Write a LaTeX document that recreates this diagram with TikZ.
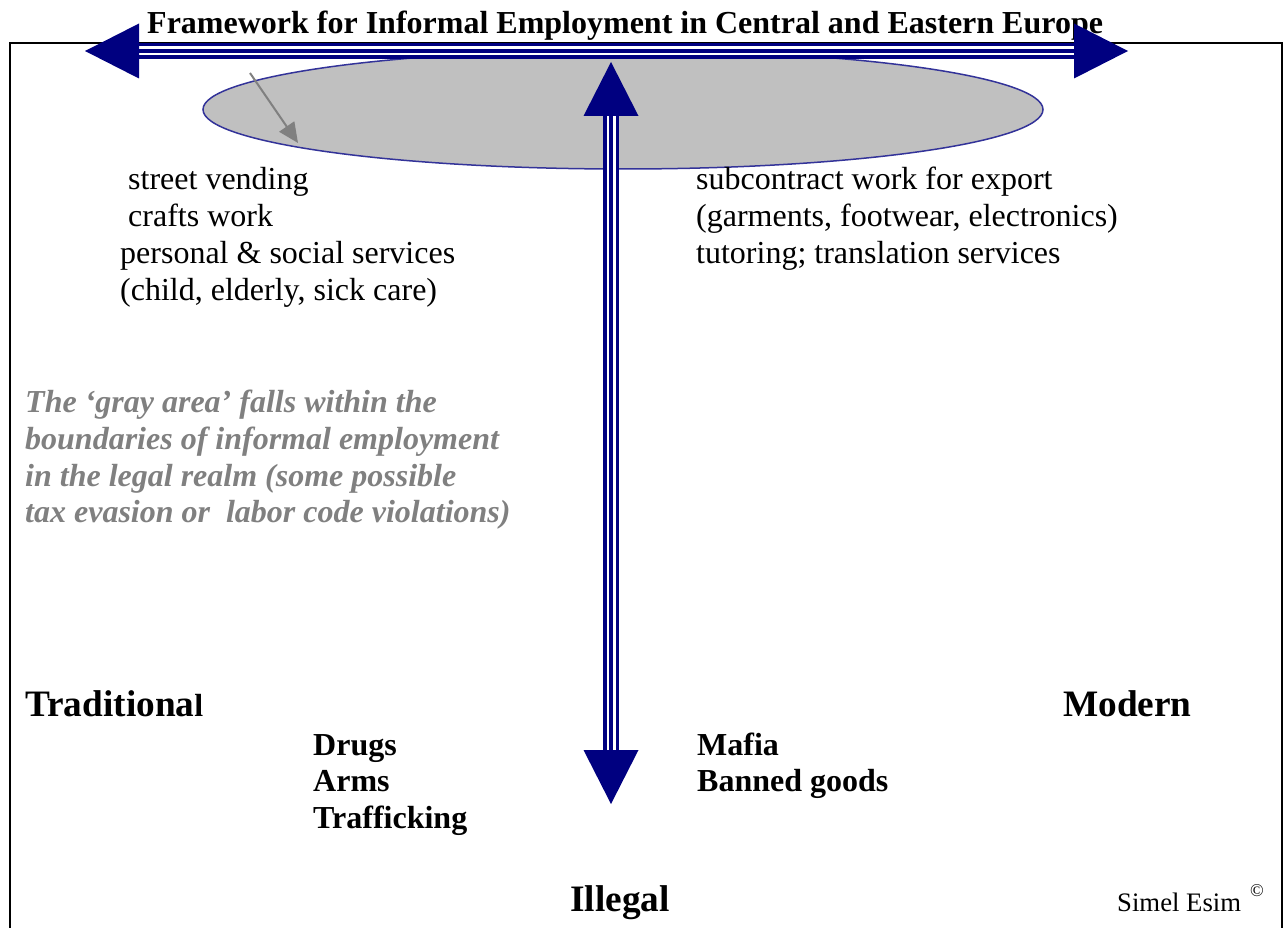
\documentclass[tikz,border=0pt]{standalone}
\usepackage{fontspec}
\setmainfont{Liberation Serif}
\usetikzlibrary{arrows.meta,shapes.geometric}
\definecolor{navy}{HTML}{000080}
\definecolor{rim}{HTML}{333399}
\definecolor{shade}{HTML}{C0C0C0}
\definecolor{note}{HTML}{808080}

\begin{document}
\begin{tikzpicture}[x=1pt,y=-1pt,
  txt/.style={inner sep=0pt, anchor=base west, font=\fontsize{32}{37}\selectfont},
  bold/.style={txt, font=\fontsize{32}{37}\selectfont\bfseries},
  big/.style={txt, font=\fontsize{37.3}{42}\selectfont\bfseries},
  grayline/.style={txt, text=note, font=\fontsize{32}{37}\selectfont\bfseries\itshape},
  shaft/.style={draw=navy, line width=16pt},
  gap/.style={draw=white, line width=2.5pt},
  head/.style={fill=navy},
  pointer/.style={draw=note, line width=2pt, -{Triangle[length=20pt,width=18pt]}}
]
\useasboundingbox (0,0) rectangle (1283,928);

% open frame running off the bottom of the page
\draw[line width=2pt] (10,940) -- (10,43) -- (1282,43) -- (1282,940);

% the gray area
\node[ellipse, draw=rim, line width=1.5pt, fill=shade, minimum width=840pt,
      minimum height=119pt, inner sep=0pt] (gray) at (623,109.5) {};

% pointer into the gray area
\coordinate (p0) at (250,73);
\coordinate (p1) at (298,143);
\draw[pointer] (p0) -- (p1);

% title
\node[txt, font=\fontsize{32}{37}\selectfont\bfseries] (title) at (147,34)
  {Framework for Informal Employment in Central and Eastern Europe};

% axis end points
\coordinate (hL) at (85,51);
\coordinate (hR) at (1128,51);
\coordinate (vT) at (611,62);
\coordinate (vB) at (611,804);

% horizontal axis: triple-line shaft with two heads
\draw[shaft] ([xshift=53]hL) -- ([xshift=-53]hR);
\draw[gap] ([xshift=53,yshift=3.25]hL) -- ([xshift=-53,yshift=3.25]hR);
\draw[gap] ([xshift=53,yshift=-3.25]hL) -- ([xshift=-53,yshift=-3.25]hR);
\fill[head] (hL) -- ++(54,-27.5) -- ++(0,55) -- cycle;
\fill[head] (hR) -- ++(-54,-27.5) -- ++(0,55) -- cycle;

% vertical axis: triple-line shaft with two heads (yshift is upward on the page)
\draw[shaft] ([yshift=-53]vT) -- ([yshift=53]vB);
\draw[gap] ([xshift=3.25,yshift=-53]vT) -- ([xshift=3.25,yshift=53]vB);
\draw[gap] ([xshift=-3.25,yshift=-53]vT) -- ([xshift=-3.25,yshift=53]vB);
\fill[head] (vT) -- ++(-27.5,54) -- ++(55,0) -- cycle;
\fill[head] (vB) -- ++(-27.5,-54) -- ++(55,0) -- cycle;

% traditional legal activities
\node[txt] (l1) at (128,190) {street vending};
\node[txt] (l2) at (128,227) {crafts work};
\node[txt] (l3) at (120,264) {personal \& social services};
\node[txt] (l4) at (120,300) {(child, elderly, sick care)};

% modern legal activities
\node[txt] (r1) at (696,190) {subcontract work for export};
\node[txt] (r2) at (696,227) {(garments, footwear, electronics)};
\node[txt] (r3) at (696,264) {tutoring; translation services};

% note on the gray area
\node[grayline] (g1) at (25,412) {The `gray area' falls within the};
\node[grayline] (g2) at (25,449) {boundaries of informal employment};
\node[grayline] (g3) at (25,486) {in the legal realm (some possible};
\node[grayline] (g4) at (25,522) {tax evasion or~ labor code violations)};

% axis labels
\node[big] (trad) at (25,716) {Traditiona{\fontsize{32}{37}\selectfont l}};
\node[big] (mod) at (1063,716) {Modern};
\node[big] (ill) at (570,911) {Illegal};

% illegal activities
\node[bold] (d1) at (313,755) {Drugs};
\node[bold] (d2) at (313,791) {Arms};
\node[bold] (d3) at (313,828) {Trafficking};
\node[bold] (m1) at (697,755) {Mafia};
\node[bold] (m2) at (697,791) {Banned goods};

% credit
\node[txt, font=\fontsize{26.7}{31}\selectfont] (auth) at (1117,911) {Simel Esim};
\node[inner sep=0pt, font=\fontsize{18}{20}\selectfont] (copy) at (1257,891) {©};
\end{tikzpicture}
\end{document}
